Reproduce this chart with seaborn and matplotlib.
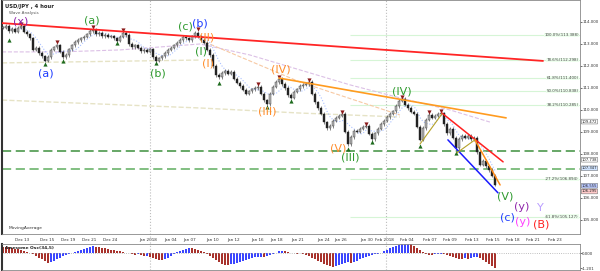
import numpy as np
import pandas as pd
import matplotlib
matplotlib.use("Agg")
import matplotlib.pyplot as plt
import matplotlib.transforms as mtransforms
import seaborn as sns

# ---------------- data ----------------
closes = [113.73, 113.82, 113.59, 113.68, 113.55, 113.73, 113.82, 113.55, 113.45, 113.27,
          112.73, 112.82, 112.59, 112.45, 112.23, 112.41, 112.73, 112.86, 112.95, 112.64,
          112.41, 112.50, 112.77, 112.95, 113.09, 113.18, 113.27, 113.32, 113.45, 113.59,
          113.64, 113.45, 113.50, 113.36, 113.41, 113.32, 113.36, 113.27, 113.14, 113.32,
          113.50, 113.41, 113.00, 112.86, 112.95, 112.82, 112.68, 112.73, 112.64, 112.77,
          112.41, 112.23, 112.36, 112.45, 112.59, 112.73, 112.82, 112.95, 113.05, 113.18,
          113.32, 113.27, 113.18, 113.36, 113.50, 113.36, 113.18, 113.05, 112.73, 112.50,
          112.00, 111.59, 111.50, 111.68, 111.77, 111.64, 111.73, 111.41, 111.23, 111.09,
          110.91, 110.73, 110.86, 110.95, 111.00, 111.05, 110.73, 110.45, 110.27, 110.73,
          111.05, 111.27, 111.41, 111.18, 111.00, 110.68, 110.55, 110.82, 110.95, 111.09,
          111.14, 111.18, 111.27, 110.73, 110.36, 110.09, 109.82, 109.45, 109.18, 109.27,
          109.50, 109.64, 109.73, 109.82, 109.00, 108.45, 108.77, 109.05, 109.00, 109.14,
          109.23, 109.27, 108.91, 108.68, 108.95, 109.14, 109.36, 109.50, 109.68, 109.82,
          109.95, 110.18, 110.41, 110.50, 110.23, 110.09, 109.91, 109.82, 109.23, 108.64,
          109.18, 109.55, 109.77, 109.64, 109.73, 109.82, 109.86, 109.36, 108.95, 109.14,
          108.73, 108.27, 108.68, 108.82, 108.73, 108.82, 108.68, 108.73, 108.09, 107.50,
          107.68, 107.45, 107.27, 107.00, 106.60]

ao_values = [0.50, 0.48, 0.45, 0.42, 0.36, 0.30, 0.24, 0.16, 0.08, 0.00,
             -0.10, -0.22, -0.36, -0.50, -0.64, -0.75, -0.70, -0.60, -0.48, -0.36,
             -0.25, -0.15, -0.10, -0.02, 0.06, 0.16, 0.26, 0.36, 0.44, 0.50,
             0.53, 0.50, 0.46, 0.42, 0.38, 0.33, 0.28, 0.23, 0.18, 0.13,
             0.08, 0.04, -0.02, -0.08, -0.14, -0.10, -0.18, -0.26, -0.22, -0.30,
             -0.38, -0.46, -0.52, -0.55, -0.48, -0.36, -0.22, -0.08, 0.06, 0.18,
             0.28, 0.36, 0.40, 0.37, 0.32, 0.24, 0.15, 0.06, -0.06, -0.22,
             -0.40, -0.58, -0.74, -0.85, -0.92, -0.95, -0.90, -0.84, -0.78, -0.70,
             -0.62, -0.55, -0.47, -0.40, -0.34, -0.30, -0.28, -0.30, -0.26, -0.18,
             -0.08, 0.04, 0.14, 0.20, 0.16, 0.10, 0.04, 0.00, -0.04, -0.02,
             -0.08, -0.16, -0.26, -0.38, -0.50, -0.62, -0.74, -0.86, -0.96, -1.03,
             -1.07, -1.04, -0.96, -0.88, -0.80, -0.74, -0.78, -0.70, -0.60, -0.50,
             -0.40, -0.30, -0.22, -0.16, -0.10, -0.04, 0.04, 0.14, 0.26, 0.38,
             0.50, 0.60, 0.68, 0.74, 0.79, 0.80, 0.70, 0.56, 0.40, 0.24,
             0.10, -0.04, -0.12, -0.16, -0.10, -0.06, -0.04, -0.06, -0.14, -0.24,
             -0.32, -0.40, -0.44, -0.46, -0.42, -0.46, -0.40, -0.34, -0.32, -0.42,
             -0.58, -0.74, -0.90, -1.06, -1.20]

date_ticks = [6.3, 14.7, 21.7, 28.7, 35.7, 48.3, 55.7, 62.3, 69.7, 76.7, 84.7, 91.3, 98.3,
              106.7, 112.7, 121.3, 127.3, 134.7, 142.3, 149.0, 156.3, 163.3, 170.0, 176.7, 184.0]
date_labels = ["Dec 13", "Dec 15", "Dec 19", "Dec 21", "Dec 24", "Jan 2018", "Jan 04", "Jan 07",
               "Jan 10", "Jan 12", "Jan 16", "Jan 18", "Jan 21", "Jan 24", "Jan 26", "Jan 30",
               "Feb 2018", "Feb 04", "Feb 07", "Feb 09", "Feb 13", "Feb 15", "Feb 18", "Feb 21", "Feb 23"]

price_ticks = [105, 106, 107, 108, 109, 110, 111, 112, 113, 114]

fib_labels = ["100.0%(113.388)", "78.6%(112.298)", "61.8%(111.400)", "50.0%(110.838)",
              "38.2%(110.285)", "-27.2%(106.894)", "-61.8%(105.127)"]
fib_prices = [113.41, 112.27, 111.45, 110.86, 110.23, 106.86, 105.14]
fib_start = 115.7

hlevels = [108.14, 107.32]

box_labels = ["109.472", "107.738", "107.347", "106.555", "106.295"]
box_prices = [109.472, 107.738, 107.347, 106.555, 106.295]
box_colors = ["#ffffff", "#ffffff", "#cfe3ff", "#b9c8ff", "#ffc9c9"]

high_marks_x = [6, 18, 30, 40, 65, 85, 92, 102, 113, 121, 133, 142, 146]
high_marks_y = [113.92, 113.07, 113.76, 113.62, 113.66, 111.16, 111.52, 111.38, 109.93,
                109.38, 110.61, 109.93, 109.97]
low_marks_x = [2, 14, 20, 38, 51, 72, 88, 96, 115, 123, 139, 151]
low_marks_y = [113.18, 112.07, 112.21, 113.03, 112.12, 111.21, 110.12, 110.39, 108.21,
               108.53, 108.34, 108.03]

wave_text = ["(x)", "(a)", "(a)", "(b)", "(c)", "(b)", "(I)", "(II)", "(I)", "(III)", "(IV)",
             "(V)", "(III)", "(IV)", "(V)", "(c)", "(y)", "(y)", "Y", "(B)"]
wave_x = [6.0, 14.3, 29.7, 51.7, 60.8, 65.6, 66.0, 68.0, 68.3, 88.0, 92.7,
          111.7, 115.7, 133.0, 167.3, 168.0, 173.0, 173.3, 179.0, 179.3]
wave_y = [114.04, 111.68, 114.09, 111.68, 113.80, 113.92, 112.68, 113.30, 112.10, 109.91, 111.82,
          108.27, 107.86, 110.82, 106.05, 105.09, 105.59, 104.91, 105.55, 104.77]
wave_color = ["#8e24aa", "#1f3dff", "#2e9a2e", "#2e9a2e", "#2e9a2e", "#1f3dff", "#2e9a2e",
              "#ff8c2a", "#ff8c2a", "#ff8c2a", "#ff8c2a", "#ff8c2a", "#2e9a2e", "#2e9a2e",
              "#2e9a2e", "#1f3dff", "#8e24aa", "#ff40ff", "#b99cff", "#ff2020"]

# trend lines (bar index, price)
red_long_x, red_long_y = [-0.33, 180.0], [113.95, 112.23]
orange_long_x, orange_long_y = [92.0, 167.7], [111.45, 109.64]
red_short_x, red_short_y = [146.3, 166.7], [109.86, 107.64]
orange_short_x, orange_short_y = [157.3, 165.7], [108.64, 106.59]
blue_x, blue_y = [148.3, 165.0], [108.64, 106.23]
olive1_x, olive1_y = [139.0, 146.3], [108.45, 109.82]
olive2_x, olive2_y = [151.3, 157.3], [108.05, 108.64]

# moving-average style curves
purple_ma_x = [-0.33, 19, 39, 65.7, 82.3, 99, 115.7, 132.3, 149, 162.3]
purple_ma_y = [112.64, 112.64, 112.73, 113.0, 112.5, 111.82, 111.14, 110.55, 110.0, 109.45]
orange_ma_x = [67.3, 99, 132.3]
orange_ma_y = [113.09, 111.27, 109.77]
beige1_x = [-0.33, 65.7]
beige1_y = [112.14, 112.27]
beige2_x = [-0.33, 49, 65.7, 99, 132.3]
beige2_y = [110.45, 110.18, 110.09, 109.86, 109.68]

vlines_x = [49.0, 127.7]

# ---------------- figure ----------------
sns.set_style("white")
plt.rcParams['font.family'] = ['DejaVu Sans']

fig = plt.figure(figsize=(6, 2.71), dpi=100)
ax = fig.add_axes([2 / 600, 37 / 271, 578 / 600, 234 / 271])
osc = fig.add_axes([2 / 600, 1 / 271, 578 / 600, 26 / 271])

n = len(closes)
idx = np.arange(n)
df = pd.DataFrame({"bar": idx, "close": closes})
df["open"] = df["close"].shift(1).fillna(df["close"].iloc[0])
df["lo"] = df[["open", "close"]].min(axis=1)
df["hi"] = df[["open", "close"]].max(axis=1)
df["ma_fast"] = df["close"].rolling(6, min_periods=1).mean()

XMAX = 192.33
ax.set_xlim(-0.33, XMAX)
ax.set_ylim(104.36, 115.0)

# fib lines
for lab, p in zip(fib_labels, fib_prices):
    ax.hlines(p, fib_start, XMAX, color="#d6f5d6", lw=0.8, zorder=1)
    ax.text(XMAX - 0.4, p, lab, fontsize=2.9, ha="right", va="center", color="#444",
            bbox=dict(facecolor="#eeffee", edgecolor="none", pad=0.3), zorder=2)

# green dashed levels
ax.axhline(hlevels[0], color="#3d8f3d", lw=1.1, ls=(0, (6, 3)), zorder=2)
ax.axhline(hlevels[1], color="#5fae5f", lw=1.1, ls=(0, (6, 3)), zorder=2)

# vertical separators
for vx in vlines_x:
    ax.axvline(vx, ymin=-0.05, ymax=1, color="#bdbdbd", lw=0.8, ls=":", clip_on=False, zorder=1)
    osc.axvline(vx, color="#bdbdbd", lw=0.8, ls=":", zorder=1)

# MA-like curves
sns.lineplot(x=beige1_x, y=beige1_y, ax=ax, color="#e6e3c6", lw=1.0, linestyle="--", zorder=2)
sns.lineplot(x=beige2_x, y=beige2_y, ax=ax, color="#e6e3c6", lw=1.0, linestyle="--", zorder=2)
sns.lineplot(x=purple_ma_x, y=purple_ma_y, ax=ax, color="#dcc0e6", lw=0.8, linestyle="--", zorder=2)
sns.lineplot(x=orange_ma_x, y=orange_ma_y, ax=ax, color="#f7c9a3", lw=0.8, linestyle="--", zorder=2)
sns.lineplot(data=df, x="bar", y="ma_fast", ax=ax, color="#a9c0ff", lw=0.8, linestyle=":", zorder=2)

# candles
up = df["close"] >= df["open"]
WICK = 0.07
ax.vlines(df["bar"], df["lo"] - WICK, df["hi"] + WICK, color="#555555", lw=0.5, zorder=3)
body_h = np.maximum(df["hi"] - df["lo"], 0.03)
ax.bar(df["bar"][up], body_h[up], bottom=df["lo"][up], width=0.75, color="#b5b5b5",
       edgecolor="#333333", linewidth=0.3, zorder=4)
ax.bar(df["bar"][~up], body_h[~up], bottom=df["lo"][~up], width=0.75, color="#222222",
       edgecolor="#222222", linewidth=0.3, zorder=4)

# fractal markers
sns.scatterplot(x=high_marks_x, y=high_marks_y, ax=ax, marker="v", color="#8b1a1a", s=9,
                linewidth=0, zorder=5)
sns.scatterplot(x=low_marks_x, y=low_marks_y, ax=ax, marker="^", color="#1e6b1e", s=9,
                linewidth=0, zorder=5)

# trend lines
sns.lineplot(x=red_long_x, y=red_long_y, ax=ax, color="#ff2525", lw=1.3, zorder=6)
sns.lineplot(x=orange_long_x, y=orange_long_y, ax=ax, color="#ff9b1f", lw=1.2, zorder=6)
sns.lineplot(x=red_short_x, y=red_short_y, ax=ax, color="#ff2020", lw=1.1, zorder=6)
sns.lineplot(x=orange_short_x, y=orange_short_y, ax=ax, color="#ff8c1a", lw=1.1, zorder=6)
sns.lineplot(x=blue_x, y=blue_y, ax=ax, color="#1a1aff", lw=1.1, zorder=6)
sns.lineplot(x=olive1_x, y=olive1_y, ax=ax, color="#b5a22a", lw=0.8, zorder=6)
sns.lineplot(x=olive2_x, y=olive2_y, ax=ax, color="#b5a22a", lw=0.8, zorder=6)

# wave labels
for t, x, y, c in zip(wave_text, wave_x, wave_y, wave_color):
    ax.text(x, y, t, color=c, fontsize=8, ha="center", va="center", zorder=7)

# titles inside panel
ax.text(0.006, 0.985, "USD/JPY , 4 hour", transform=ax.transAxes, fontsize=3.8,
        fontweight="bold", color="#222", va="top", ha="left")
ax.text(0.012, 0.955, "Wave Analysis", transform=ax.transAxes, fontsize=3.0,
        color="#555", va="top", ha="left")
ax.text(0.012, 0.015, "MovingAverage", transform=ax.transAxes, fontsize=3.2,
        color="#333", va="bottom", ha="left")

# axes styling
ax.yaxis.tick_right()
ax.set_yticks(price_ticks)
ax.set_yticklabels([f"{p:.3f}" for p in price_ticks])
ax.tick_params(axis="y", labelsize=2.9, length=1.2, width=0.5, pad=0.4, colors="#333")
ax.set_xticks(date_ticks)
ax.set_xticklabels(date_labels)
ax.tick_params(axis="x", labelsize=3.0, length=2, width=0.5, pad=1, colors="#333")
ax.set_xlabel("")
ax.set_ylabel("")
for s in ["top", "right", "bottom"]:
    ax.spines[s].set_color("#888888")
    ax.spines[s].set_linewidth(0.6)
ax.spines["left"].set_color("#333333")
ax.spines["left"].set_linewidth(1.5)

trans = mtransforms.blended_transform_factory(ax.transAxes, ax.transData)
for lab, p, fc in zip(box_labels, box_prices, box_colors):
    ax.text(1.003, p, lab, transform=trans, fontsize=2.7, ha="left", va="center", color="#222",
            bbox=dict(facecolor=fc, edgecolor="#777", boxstyle="round,pad=0.1", lw=0.4),
            clip_on=False, zorder=8)

# oscillator
ao = pd.Series(ao_values)
rising = ao.diff().fillna(-1) > 0
colors = np.where(rising, "#3b46ff", "#a8322c")
osc.bar(idx, ao_values, width=0.8, color=colors, linewidth=0)
osc.axhline(0, color="#aaaaaa", lw=0.6, ls=":")
osc.set_xlim(-0.33, XMAX)
osc.set_ylim(-1.34, 0.72)
osc.yaxis.tick_right()
osc.set_yticks([0.0, -1.2])
osc.set_yticklabels(["0.000", "-1.201"])
osc.tick_params(axis="y", labelsize=2.9, length=1.2, width=0.5, pad=0.4, colors="#333")
osc.set_xticks([])
for s in ["top", "right", "bottom"]:
    osc.spines[s].set_color("#888888")
    osc.spines[s].set_linewidth(0.6)
osc.spines["left"].set_color("#333333")
osc.spines["left"].set_linewidth(1.5)
osc.text(0.006, 0.93, "Awesome Osc(34,5)", transform=osc.transAxes, fontsize=3.2,
         color="#222", va="top", ha="left", fontweight="bold")

fig.savefig("out.png", dpi=100)
